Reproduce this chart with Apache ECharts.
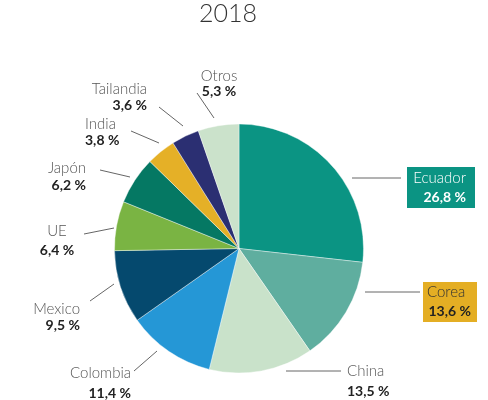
<!DOCTYPE html>
<html>
<head>
<meta charset="utf-8">
<script src="https://cdn.jsdelivr.net/npm/echarts@6/dist/echarts.min.js"></script>
<style>html,body{margin:0;padding:0;background:#fff}#c{width:488px;height:400px}</style>
</head>
<body>
<div id="c"></div>
<script>
// ---- data ----
const titleText = '2018';
const categories = ['Ecuador', 'Corea', 'China', 'Colombia', 'Mexico', 'UE', 'Japón', 'India', 'Tailandia', 'Otros'];
const shares = [26.8, 13.6, 13.5, 11.4, 9.5, 6.4, 6.2, 3.8, 3.6, 5.3];
const colors = ['#0b9483', '#5fae9f', '#c9e2ca', '#2597d6', '#05496e', '#7ab443', '#057863', '#e5b027', '#2b2f72', '#cbe2cb'];

// ---- label layout (annotation placement, not data) ----
// x: anchor x, nc: name line centre y, gap: distance between name and value line centres
const place = [
  { x: 407, top: 167, align: 'left', box: true, line: [[352, 178], [401, 178]] },
  { x: 423, top: 282, align: 'left', box: true, line: [[365, 292], [420, 292]] },
  { x: 347, nc: 371, gap: 20, align: 'left', line: [[286, 371], [341, 371]] },
  { x: 131, nc: 373, gap: 20, align: 'right', line: [[157, 351], [134, 371]] },
  { x: 80, nc: 309, gap: 16, align: 'right', line: [[114, 284], [90, 301]] },
  { x: 57, nc: 231, gap: 19, align: 'center', line: [[114, 228], [84, 234]] },
  { x: 86, nc: 168, gap: 17, align: 'right', line: [[130, 177], [100, 170]] },
  { x: 85, nc: 124, gap: 16, align: 'left', line: [[159, 143], [131, 131]] },
  { x: 147, nc: 89, gap: 16, align: 'right', line: [[183, 126], [159, 107]] },
  { x: 219, nc: 76, gap: 15, align: 'center', line: [[214, 118], [197, 93]] }
];

const FONT = 'Lato, "Open Sans", sans-serif';
const L1 = 16;
const NS = 15;
const fmt = v => v.toFixed(1).replace('.', ',') + ' %';

const data = categories.map((name, i) => {
  const p = place[i];
  const item = { name: name, value: shares[i], itemStyle: { color: colors[i] } };
  let label;
  if (i === 0) {
    label = {
      backgroundColor: colors[0], padding: [3, 9, 0, 6], width: 53,
      rich: {
        n: { fontFamily: FONT, fontSize: NS, fontWeight: 300, color: '#ffffff', lineHeight: L1, align: 'right' },
        v: { fontFamily: FONT, fontSize: 14, fontWeight: 'bold', color: '#ffffff', lineHeight: 22, align: 'right' }
      }
    };
  } else if (i === 1) {
    label = {
      backgroundColor: '#e4ae24', padding: [2, 6, 0, 4], width: 44,
      rich: {
        n: { fontFamily: FONT, fontSize: NS, fontWeight: 300, color: '#333333', lineHeight: L1, align: 'left' },
        v: { fontFamily: FONT, fontSize: 14, fontWeight: 'bold', color: '#222222', lineHeight: 22, align: 'right' }
      }
    };
  } else {
    label = {
      rich: {
        n: { fontFamily: FONT, fontSize: NS, fontWeight: 300, color: '#555555', lineHeight: L1, align: p.align },
        v: { fontFamily: FONT, fontSize: 14, fontWeight: 'bold', color: '#222222', lineHeight: 2 * p.gap - L1, align: p.align }
      }
    };
  }
  item.label = label;
  return item;
});

const chart = echarts.init(document.getElementById('c'), null, { renderer: 'canvas' });
chart.setOption({
  animation: false,
  backgroundColor: '#ffffff',
  title: {
    text: titleText, left: 199, top: 1, padding: 0,
    textStyle: { fontFamily: FONT, fontSize: 25, fontWeight: 300, color: '#333333' }
  },
  series: [{
    type: 'pie',
    center: [239, 248.5],
    radius: 124.5,
    startAngle: 90,
    clockwise: true,
    avoidLabelOverlap: false,
    itemStyle: { borderColor: '#ffffff', borderWidth: 0.4 },
    label: {
      show: true,
      position: 'outside',
      formatter: p => '{n|' + p.name + '}\n{v|' + fmt(p.value) + '}'
    },
    labelLine: { show: true, length: 10, length2: 10, lineStyle: { color: '#666666', width: 1 } },
    labelLayout: function (params) {
      const p = place[params.dataIndex];
      const top = p.box ? p.top : p.nc - L1 / 2;
      return { x: p.x, y: top, align: p.align, verticalAlign: 'top', labelLinePoints: p.line };
    },
    emphasis: { disabled: true },
    data: data
  }]
});
</script>
</body>
</html>
